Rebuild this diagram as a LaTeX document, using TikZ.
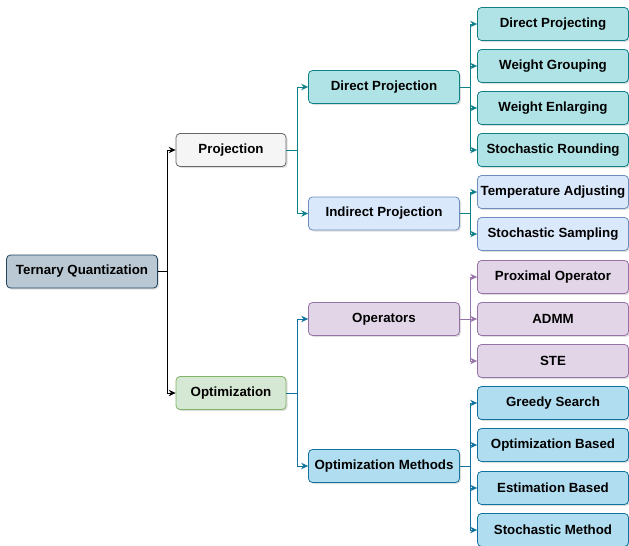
\documentclass[tikz,border=0pt]{standalone}
\usepackage{fontspec}
\setmainfont{Liberation Sans}
\usepackage{xcolor}
\usepackage{tikz}
\usetikzlibrary{arrows.meta}
\usetikzlibrary{shadows}

\definecolor{rootfill}{HTML}{BAC8D3}
\definecolor{rootline}{HTML}{23445D}
\definecolor{grayfill}{HTML}{F5F5F5}
\definecolor{grayline}{HTML}{666666}
\definecolor{greenfill}{HTML}{D5E8D4}
\definecolor{greenline}{HTML}{82B366}
\definecolor{tealfill}{HTML}{B0E3E6}
\definecolor{tealline}{HTML}{0E8088}
\definecolor{bluefill}{HTML}{DAE8FC}
\definecolor{blueline}{HTML}{6C8EBF}
\definecolor{purplefill}{HTML}{E1D5E7}
\definecolor{purpleline}{HTML}{9673A6}
\definecolor{skyfill}{HTML}{B1DDF0}
\definecolor{skyline}{HTML}{10739E}

\begin{document}
\begin{tikzpicture}[x=1pt,y=-1pt,
	box/.style={draw, rounded corners=4pt, line width=0.8pt, minimum height=33pt,
		inner sep=1pt, font=\fontsize{13.3}{15}\selectfont\bfseries,
		drop shadow={opacity=0.25, shadow xshift=1.5pt, shadow yshift=-1.5pt}},
	rootbox/.style={box, fill=rootfill, draw=rootline, minimum width=151pt},
	graybox/.style={box, fill=grayfill, draw=grayline, minimum width=110pt},
	greenbox/.style={box, fill=greenfill, draw=greenline, minimum width=110pt},
	tealbox/.style={box, fill=tealfill, draw=tealline, minimum width=151pt},
	bluebox/.style={box, fill=bluefill, draw=blueline, minimum width=151pt},
	purplebox/.style={box, fill=purplefill, draw=purpleline, minimum width=151pt},
	skybox/.style={box, fill=skyfill, draw=skyline, minimum width=151pt},
	link/.style={line width=0.8pt, -{Stealth[length=7pt,width=6.5pt,inset=2.5pt]}}]

	\useasboundingbox (0,0) rectangle (629,546);

	\node [rootbox] (tq) at (82,271.5) {Ternary Quantization};

	\node [graybox] (proj) at (231,150) {Projection};
	\node [greenbox] (opt) at (231,393) {Optimization};

	\node [tealbox] (dproj) at (384,87) {Direct Projection};
	\node [bluebox] (iproj) at (384,213.5) {Indirect Projection};
	\node [purplebox] (oper) at (384,319) {Operators};
	\node [skybox] (omet) at (384,466) {Optimization Methods};

	\node [tealbox] (dpj) at (553,24) {Direct Projecting};
	\node [tealbox] (wgr) at (553,66) {Weight Grouping};
	\node [tealbox] (wen) at (553,108) {Weight Enlarging};
	\node [tealbox] (sro) at (553,150) {Stochastic Rounding};

	\node [bluebox] (tad) at (553,192) {Temperature Adjusting};
	\node [bluebox] (ssa) at (553,234) {Stochastic Sampling};

	\node [purplebox] (prox) at (553,277) {Proximal Operator};
	\node [purplebox] (admm) at (553,319) {ADMM};
	\node [purplebox] (ste) at (553,361) {STE};

	\node [skybox] (gs) at (553,403) {Greedy Search};
	\node [skybox] (ob) at (553,445) {Optimization Based};
	\node [skybox] (eb) at (553,488) {Estimation Based};
	\node [skybox] (sm) at (553,530) {Stochastic Method};

	\foreach \to in {proj,opt}
		\draw [link, black] (tq.east) -- ([xshift=9pt]tq.east) |- (\to.west);

	\foreach \to in {dproj,iproj}
		\draw [link, tealline] (proj.east) -- ([xshift=11pt]proj.east) |- (\to.west);

	\foreach \to in {oper,omet}
		\draw [link, skyline] (opt.east) -- ([xshift=11pt]opt.east) |- (\to.west);

	\foreach \to in {dpj,wgr,wen,sro}
		\draw [link, tealline] (dproj.east) -- ([xshift=10pt]dproj.east) |- (\to.west);

	\foreach \to in {tad,ssa}
		\draw [link, tealline] (iproj.east) -- ([xshift=10pt]iproj.east) |- (\to.west);

	\foreach \to in {prox,admm,ste}
		\draw [link, purpleline] (oper.east) -- ([xshift=10pt]oper.east) |- (\to.west);

	\foreach \to in {gs,ob,eb,sm}
		\draw [link, skyline] (omet.east) -- ([xshift=10pt]omet.east) |- (\to.west);

\end{tikzpicture}
\end{document}
